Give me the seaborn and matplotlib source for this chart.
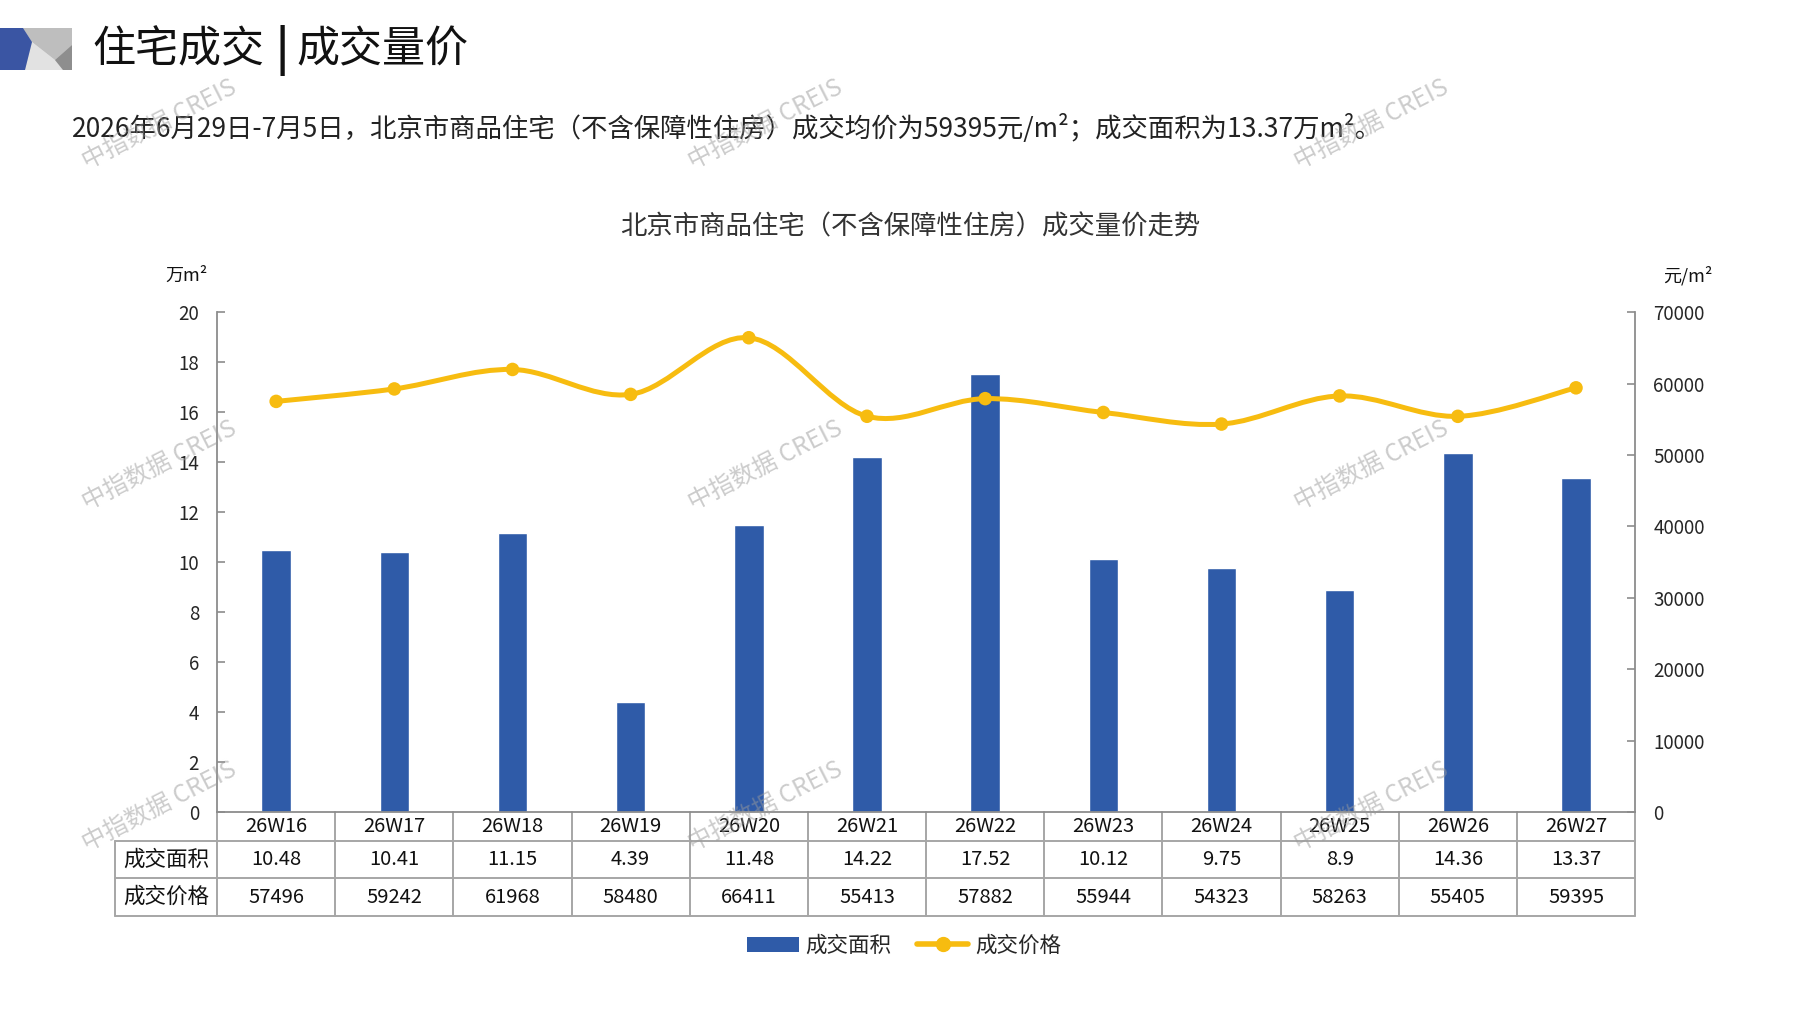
import matplotlib

matplotlib.use("Agg")
import matplotlib.pyplot as plt
import numpy as np
import pandas as pd
import seaborn as sns
from matplotlib.lines import Line2D
from matplotlib.patches import Patch, PathPatch, Polygon
from matplotlib.path import Path

weeks = ["26W16", "26W17", "26W18", "26W19", "26W20", "26W21",
         "26W22", "26W23", "26W24", "26W25", "26W26", "26W27"]
area = [10.48, 10.41, 11.15, 4.39, 11.48, 14.22, 17.52, 10.12, 9.75, 8.9, 14.36, 13.37]
price = [57496, 59242, 61968, 58480, 66411, 55413, 57882, 55944, 54323, 58263, 55405, 59395]
area_labels = ["10.48", "10.41", "11.15", "4.39", "11.48", "14.22",
               "17.52", "10.12", "9.75", "8.9", "14.36", "13.37"]
row_names = ["成交面积", "成交价格"]

BLUE = "#2F5BA8"
GOLD = "#F7BC10"
GRID = "#A6A6A6"
AXIS = "#8C8C8C"

sns.set_theme(style="white")
plt.rcParams["font.family"] = ["Noto Sans CJK SC", "DejaVu Sans"]

df = pd.DataFrame({"week": weeks, "area": area, "price": price})

W, H = 1797, 1010
fig = plt.figure(figsize=(W / 100, H / 100), dpi=100)
ax = fig.add_axes([0.1208, 0.1960, 0.7891, 0.4950])

sns.barplot(data=df, x="week", y="area", color=BLUE, width=0.25,
            saturation=1, ax=ax, zorder=2)
ax.set_xlim(-0.5, len(weeks) - 0.5)
ax.set_ylim(0, 20)
ax.set_yticks(np.arange(0, 21, 2))
ax.set_xlabel("")
ax.set_ylabel("")
ax.tick_params(axis="x", length=0, labelbottom=False)
ax.tick_params(axis="y", direction="in", length=6, width=1.2, color=AXIS,
               labelsize=13.5, pad=13, left=True)
for side in ["top", "right"]:
    ax.spines[side].set_visible(False)
for side in ["left", "bottom"]:
    ax.spines[side].set_color(AXIS)
    ax.spines[side].set_linewidth(1.3)

ax2 = ax.twinx()
ax2.set_ylim(0, 70000)
ax2.set_yticks(np.arange(0, 70001, 10000))
ax2.tick_params(axis="y", direction="in", length=6, width=1.2, color=AXIS,
                labelsize=13.5, pad=13, right=True)
for side in ["top", "left", "bottom"]:
    ax2.spines[side].set_visible(False)
ax2.spines["right"].set_color(AXIS)
ax2.spines["right"].set_linewidth(1.3)

# smoothed price line (Bezier through the points, like the spreadsheet "smooth line")
xs = np.arange(len(price), dtype=float)
ys = np.asarray(price, dtype=float)
n = len(xs)
verts = [(xs[0], ys[0])]
codes = [Path.MOVETO]
for i in range(n - 1):
    a = max(i - 1, 0)
    b = min(i + 2, n - 1)
    c1 = (xs[i] + (xs[i + 1] - xs[a]) / 6, ys[i] + (ys[i + 1] - ys[a]) / 6)
    c2 = (xs[i + 1] - (xs[b] - xs[i]) / 6, ys[i + 1] - (ys[b] - ys[i]) / 6)
    verts += [c1, c2, (xs[i + 1], ys[i + 1])]
    codes += [Path.CURVE4] * 3
ax2.add_patch(PathPatch(Path(verts, codes), facecolor="none", edgecolor=GOLD,
                        linewidth=3.6, capstyle="round", zorder=3))
sns.scatterplot(x=xs, y=ys, color=GOLD, s=95, edgecolor="none", ax=ax2, zorder=4)

# data table under the plot
tr = ax.transAxes
label_left = -0.072
row_edges = [0, -0.058, -0.132, -0.208]
line_kw = dict(color=GRID, linewidth=1.4, transform=tr, clip_on=False)
for yv in row_edges[1:]:
    ax.add_line(Line2D([label_left, 1], [yv, yv], **line_kw))
for k in range(n + 1):
    ax.add_line(Line2D([k / n, k / n], [0, row_edges[-1]], **line_kw))
ax.add_line(Line2D([label_left, label_left], [row_edges[1], row_edges[-1]], **line_kw))

rows = [weeks, area_labels, [str(p) for p in price]]
for r, values in enumerate(rows):
    yc = (row_edges[r] + row_edges[r + 1]) / 2
    for k, v in enumerate(values):
        ax.text((k + 0.5) / n, yc, v, transform=tr, ha="center", va="center",
                fontsize=14.5, color="#111111", clip_on=False)
for r, name in enumerate(row_names):
    yc = (row_edges[r + 1] + row_edges[r + 2]) / 2
    ax.text(label_left / 2, yc, name, transform=tr, ha="center", va="center",
            fontsize=15.5, color="#111111", clip_on=False)

# overlay in pixel coordinates for header, titles and watermarks
ov = fig.add_axes([0, 0, 1, 1], zorder=10)
ov.set_xlim(0, W)
ov.set_ylim(H, 0)
ov.axis("off")
ov.patch.set_alpha(0)

ov.add_patch(Polygon([(20, 28), (72, 28), (72, 70), (20, 70)], color="#D4D4D4", lw=0))
ov.add_patch(Polygon([(23, 28), (72, 28), (72, 45), (55, 60), (32, 42)], color="#BEBEBE", lw=0))
ov.add_patch(Polygon([(32, 42), (55, 60), (63, 70), (25, 70)], color="#E2E2E2", lw=0))
ov.add_patch(Polygon([(72, 45), (72, 70), (63, 70), (55, 60)], color="#8E8E8E", lw=0))
ov.add_patch(Polygon([(0, 28), (23, 28), (32, 42), (25, 70), (0, 70)], color="#3A55A3", lw=0))

ov.text(92, 50, "住宅成交", fontsize=31, va="center", ha="left", color="#111111")
ov.text(282, 50, "|", fontsize=32, va="center", ha="center", color="#111111",
        fontweight="bold")
ov.text(296, 50, "成交量价", fontsize=31, va="center", ha="left", color="#111111")

ov.text(72, 128,
        "2026年6月29日-7月5日，北京市商品住宅（不含保障性住房）成交均价为59395元/m²；成交面积为13.37万m²。",
        fontsize=19, va="center", ha="left", color="#222222")
ov.text(910, 227, "北京市商品住宅（不含保障性住房）成交量价走势", fontsize=19,
        va="center", ha="center", color="#333333")
ov.text(186, 276, "万m²", fontsize=13, va="center", ha="center", color="#111111")
ov.text(1688, 276, "元/m²", fontsize=13, va="center", ha="center", color="#111111")

for wy in [125, 466, 807]:
    for wx in [159, 765, 1371]:
        ov.text(wx, wy, "中指数据 CREIS", fontsize=17.5, rotation=27,
                ha="center", va="center", color="#9A9A9A", alpha=0.5,
                rotation_mode="anchor")

handles = [
    Patch(facecolor=BLUE, edgecolor="none", label="成交面积"),
    Line2D([0], [0], color=GOLD, linewidth=4, marker="o", markersize=10,
           label="成交价格"),
]
fig.legend(handles=handles, loc="center", bbox_to_anchor=(0.503, 0.0634),
           ncol=2, frameon=False, fontsize=15.5, handlelength=2.4,
           handletextpad=0.3, columnspacing=1.2)

fig.savefig("out.png", dpi=100)
plt.close(fig)
